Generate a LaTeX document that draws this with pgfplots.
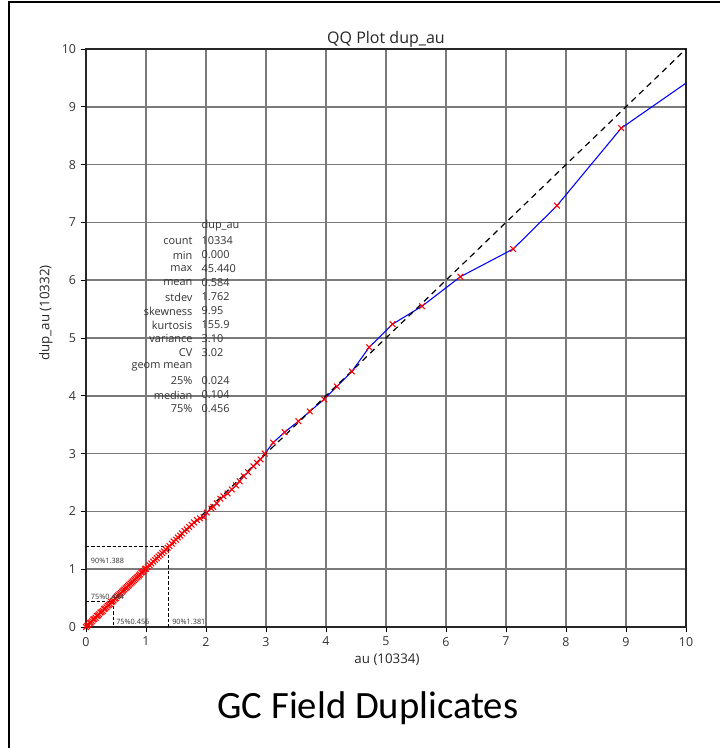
\documentclass[border=0pt]{standalone}
\usepackage{pgfplots}
\pgfplotsset{compat=1.18}
\usepackage{fontspec}
\setmainfont{Open Sans}
\newfontfamily\capfont{Carlito}

\begin{document}
\begin{tikzpicture}[x=1pt,y=1pt]
\path[use as bounding box] (0,0) rectangle (540,561);
\draw[line width=1.5pt] (6.75,0) -- (6.75,559.5) -- (540,559.5);

\begin{axis}[%
at={(64.5pt,90.75pt)},
anchor=south west,
width=450pt,
height=433.5pt,
scale only axis,
xmin=0, xmax=10,
ymin=0, ymax=10,
xtick={0,1,...,10},
ytick={0,1,...,10},
xmajorgrids, ymajorgrids,
major grid style={color=black!52, line width=1.2pt},
axis line style={color=black!85, line width=1pt},
tick align=outside,
xtick pos=left, ytick pos=left,
major tick length=4pt,
tick style={black, line width=0.7pt},
ticklabel style={font=\fontsize{9.3}{10}\selectfont, text=black!80},
/pgf/number format/assume math mode=true,
axis background/.style={fill=white}
]
% QQ points
\addplot[blue, line width=0.8pt, mark=x, mark size=3pt, mark options={red, line width=0.8pt}] table {
0.00 0.00
0.02 0.02
0.04 0.04
0.06 0.07
0.08 0.08
0.10 0.10
0.12 0.13
0.14 0.14
0.16 0.16
0.18 0.19
0.20 0.20
0.22 0.22
0.24 0.25
0.26 0.26
0.28 0.28
0.30 0.31
0.32 0.32
0.34 0.34
0.36 0.37
0.38 0.38
0.40 0.40
0.42 0.43
0.44 0.44
0.46 0.46
0.48 0.49
0.50 0.50
0.52 0.53
0.54 0.55
0.56 0.57
0.58 0.59
0.60 0.61
0.62 0.63
0.64 0.65
0.66 0.67
0.68 0.69
0.70 0.71
0.72 0.73
0.74 0.75
0.76 0.77
0.78 0.79
0.80 0.81
0.82 0.83
0.84 0.85
0.86 0.87
0.88 0.89
0.90 0.91
0.92 0.94
0.94 0.95
0.96 0.97
0.98 1.00
1.00 1.01
1.03 1.04
1.06 1.07
1.09 1.10
1.12 1.13
1.15 1.16
1.18 1.19
1.21 1.22
1.24 1.25
1.27 1.28
1.30 1.31
1.33 1.34
1.36 1.37
1.39 1.40
1.43 1.44
1.46 1.48
1.50 1.51
1.53 1.55
1.57 1.58
1.60 1.62
1.64 1.66
1.68 1.69
1.72 1.73
1.76 1.77
1.80 1.81
1.85 1.85
1.90 1.88
1.96 1.90
2.01 1.98
2.09 2.05
2.12 2.08
2.18 2.14
2.24 2.22
2.29 2.26
2.36 2.31
2.43 2.38
2.50 2.45
2.56 2.52
2.63 2.61
2.70 2.68
2.79 2.78
2.85 2.84
2.91 2.90
2.98 3.00
3.12 3.19
3.31 3.37
3.54 3.56
3.73 3.73
3.97 3.94
4.18 4.16
4.43 4.42
4.72 4.84
5.11 5.24
5.60 5.55
6.24 6.06
7.12 6.54
7.85 7.29
8.92 8.63
};
\addplot[blue, line width=0.8pt] coordinates {(8.92,8.63) (10,9.41)};
% 1:1 line
\addplot[black, line width=0.9pt, dash pattern=on 4.5pt off 3.5pt] coordinates {(0,0) (10,10)};
% quantile boxes
\addplot[black, line width=0.7pt, dash pattern=on 2.5pt off 1.5pt] coordinates {(0,0.444) (0.456,0.444) (0.456,0)};
\addplot[black, line width=0.7pt, dash pattern=on 2.5pt off 1.5pt] coordinates {(0,1.388) (1.381,1.388) (1.381,0)};
\end{axis}

% quantile labels
\begin{scope}[every node/.style={font=\fontsize{5.5}{6}\selectfont, inner sep=0.5pt, text=black!80}]
\node[anchor=south west] at (67.5,137.5) {90\%1.388};
\node[anchor=south west] at (67.5,110.5) {75\%0.444};
\node[anchor=south west] at (86.5,92) {75\%0.456};
\node[anchor=south west] at (128.5,92) {90\%1.381};
\end{scope}

% statistics block
\begin{scope}[every node/.style={font=\fontsize{8.2}{9}\selectfont, inner sep=0pt, text=black!80}]
\foreach \lab/\val/\py in {count/10334/241, min/0.000/255, max/45.440/269,
  mean/0.584/283, stdev/1.762/297, skewness/9.95/311, kurtosis/155.9/325,
  variance/3.10/339, CV/3.02/353, geom mean/{}/367, 25\%/0.024/381,
  median/0.104/395, 75\%/0.456/409}{
  \node[anchor=east] at (144.5,{(748-\py)*0.75}) {\lab};
  \node[anchor=west] at (151,{(748-\py)*0.75}) {\val};
}
\node[anchor=west] at (151,{(748-226)*0.75}) {dup\_au};
\end{scope}

% titles and labels
\node[anchor=base, font=\fontsize{12}{14}\selectfont, text=black!85] at (289.5,528) {QQ Plot dup\_au};
\node[font=\fontsize{10}{12}\selectfont, text=black!85] at (290.25,66) {au (10334)};
\node[rotate=90, font=\fontsize{10}{12}\selectfont, text=black!85] at (34.5,326.25) {dup\_au (10332)};
\node[anchor=base, font=\capfont\fontsize{29}{34}\selectfont] at (276,21.75) {GC Field Duplicates};
\end{tikzpicture}
\end{document}
